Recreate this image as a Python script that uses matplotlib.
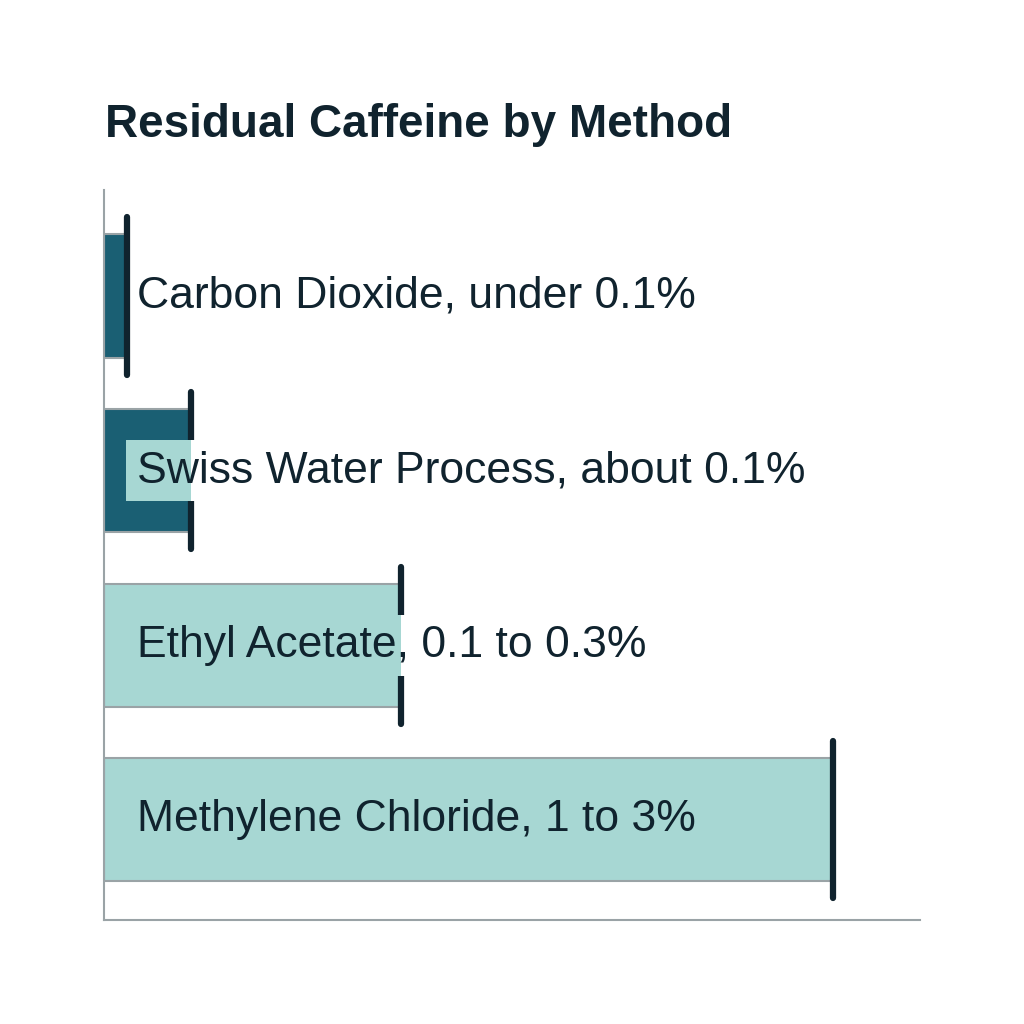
import matplotlib
matplotlib.use("Agg")
import matplotlib.pyplot as plt
from matplotlib.patches import Rectangle

# residual caffeine, drawn on a relative scale as in the source picture
methods = ["Carbon Dioxide", "Swiss Water Process", "Ethyl Acetate", "Methylene Chloride"]
labels = ["Carbon Dioxide, under 0.1%", "Swiss Water Process, about 0.1%",
          "Ethyl Acetate, 0.1 to 0.3%", "Methylene Chloride, 1 to 3%"]
values = [0.08, 0.30, 1.02, 2.50]
bar_colors = ["#1a5f73", "#1a5f73", "#a7d7d3", "#a7d7d3"]

dark = "#10232e"
light = "#a7d7d3"
grey = "#9aa3a6"

plt.rcParams["font.family"] = ["Liberation Sans", "DejaVu Sans"]

fig = plt.figure(figsize=(10.24, 10.24), dpi=100)
ax = fig.add_axes([0.1016, 0.1016, 0.7968, 0.7129])

bar_h = 0.705
ys = list(range(len(methods)))
ax.barh(ys, values, height=bar_h, color=bar_colors, edgecolor=grey, linewidth=1.5, zorder=2)
ax.vlines(values, [y - 0.45 for y in ys], [y + 0.45 for y in ys],
          color=dark, linewidth=4.5, capstyle="round", zorder=3)

ax.set_xlim(0, 2.8)
ax.set_ylim(3.573, -0.607)
ax.set_xticks([])
ax.set_yticks([])
for s in ["top", "right"]:
    ax.spines[s].set_visible(False)
for s in ["left", "bottom"]:
    ax.spines[s].set_color(grey)
    ax.spines[s].set_linewidth(1.5)

trans = ax.get_yaxis_transform()
xt = 0.0404
texts = []
for y, lab in zip(ys, labels):
    texts.append(ax.text(xt, y, lab, transform=trans, va="center", ha="left",
                         fontsize=32, color=dark, zorder=6))

fig.text(105 / 1024, 1 - 137 / 1024, "Residual Caffeine by Method", fontsize=33,
         fontweight="bold", color=dark, ha="left", va="baseline")

# label panels: white behind the text, light teal where the bar runs under it
fig.canvas.draw()
renderer = fig.canvas.get_renderer()
inv = ax.transData.inverted()
pad = 11
for t, y, v in zip(texts, ys, values):
    bb = t.get_window_extent(renderer)
    (x0, y0), (x1, y1) = inv.transform([(bb.x0 - pad, bb.y0 - 10), (bb.x1 + pad, bb.y1 + 10)])
    (xw, _), = inv.transform([(bb.x0 - 3, bb.y0)])
    top, bot = min(y0, y1), max(y0, y1)
    ax.add_patch(Rectangle((xw, top), x1 - xw, bot - top, fc="white", ec="none", zorder=4))
    if v > xw:
        ax.add_patch(Rectangle((x0, top), min(v, x1) - x0, bot - top,
                               fc=light, ec="none", zorder=5))

fig.savefig("out.png", dpi=100, facecolor="white")
